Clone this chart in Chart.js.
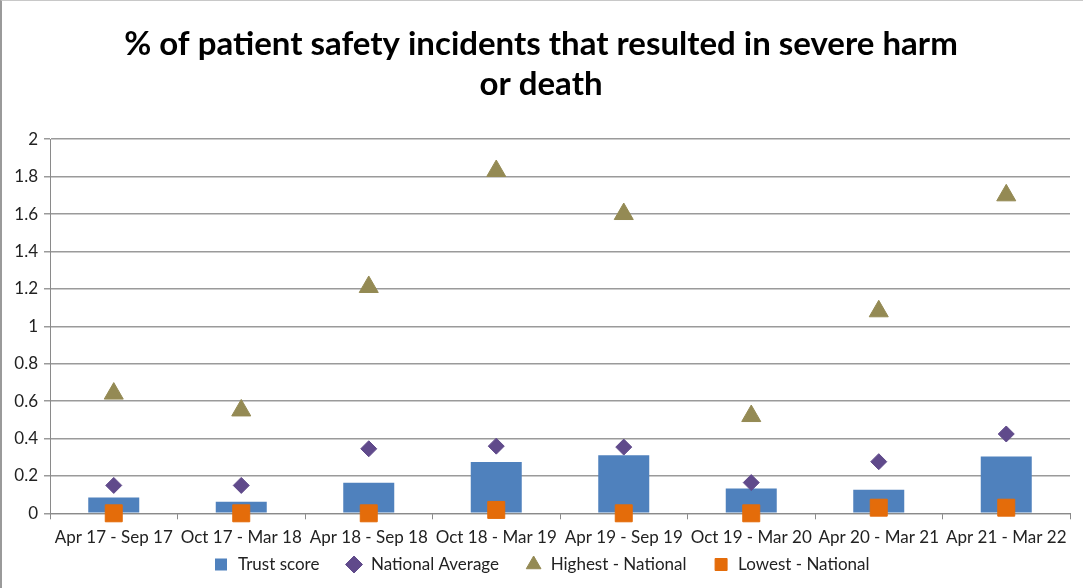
<!DOCTYPE html>
<html>
<head>
<meta charset="utf-8">
<script src="https://cdn.jsdelivr.net/npm/chart.js@4.4.1/dist/chart.umd.min.js"></script>
<style>
  html, body { margin: 0; padding: 0; background: #fff; }
  #wrap { position: relative; width: 1083px; height: 588px; box-sizing: border-box; border-left: 2px solid #9a9a9a; border-top: 1px solid #c8c8c8; }
</style>
</head>
<body>
<div id="wrap"><canvas id="harmChart"></canvas></div>
<script>
// periodos y valores
const periodos = ['Apr 17 - Sep 17', 'Oct 17 - Mar 18', 'Apr 18 - Sep 18', 'Oct 18 - Mar 19',
                  'Apr 19 - Sep 19', 'Oct 19 - Mar 20', 'Apr 20 - Mar 21', 'Apr 21 - Mar 22'];
const trustScore = [0.085, 0.062, 0.163, 0.274, 0.311, 0.133, 0.126, 0.304];
const nationalAverage = [0.149, 0.149, 0.345, 0.359, 0.354, 0.164, 0.276, 0.424];
const highestNational = [0.64, 0.55, 1.21, 1.83, 1.60, 0.52, 1.08, 1.70];
const lowestNational = [0, 0, 0, 0.018, 0, 0, 0.03, 0.03];
const yTicks = [0, 0.2, 0.4, 0.6, 0.8, 1, 1.2, 1.4, 1.6, 1.8, 2];

Chart.defaults.font.family = 'Lato, "Open Sans", sans-serif';
Chart.defaults.color = '#222';

const ctx = document.getElementById('harmChart').getContext('2d');
new Chart(ctx, {
    type: 'bar',
    data: {
        labels: periodos,
        datasets: [{
            label: 'Trust score',
            data: trustScore,
            backgroundColor: '#4f81bd',
            categoryPercentage: 1,
            barPercentage: 0.4,
            pointStyle: 'rect',
            order: 4
        }, {
            type: 'line',
            label: 'National Average',
            data: nationalAverage,
            showLine: false,
            pointStyle: 'rectRot',
            pointRadius: 8,
            pointBackgroundColor: '#604a8b',
            pointBorderColor: '#604a8b',
            backgroundColor: '#604a8b',
            borderColor: '#604a8b',
            clip: false,
            order: 2
        }, {
            type: 'line',
            label: 'Highest - National',
            data: highestNational,
            showLine: false,
            pointStyle: 'triangle',
            pointRadius: 11,
            pointBackgroundColor: '#948a54',
            pointBorderColor: '#948a54',
            backgroundColor: '#948a54',
            borderColor: '#948a54',
            clip: false,
            order: 3
        }, {
            type: 'line',
            label: 'Lowest - National',
            data: lowestNational,
            showLine: false,
            pointStyle: 'rect',
            pointRadius: 12,
            pointBackgroundColor: '#e46c0a',
            pointBorderColor: '#e46c0a',
            backgroundColor: '#e46c0a',
            borderColor: '#e46c0a',
            clip: false,
            order: 1
        }]
    },
    options: {
        responsive: true,
        maintainAspectRatio: false,
        animation: false,
        layout: { padding: { left: 0, right: 3, top: 10, bottom: 5 } },
        plugins: {
            title: {
                display: true,
                text: ['% of patient safety incidents that resulted in severe harm', 'or death'],
                font: { size: 33, weight: 'bold' },
                color: '#000',
                lineHeight: 1.22,
                padding: { top: 14, bottom: 35 }
            },
            legend: {
                position: 'bottom',
                labels: {
                    usePointStyle: true,
                    boxHeight: 12,
                    padding: 0,
                    font: { size: 17 },
                    color: '#222',
                    sort: (a, b) => a.datasetIndex - b.datasetIndex,
                    // espacio extra entre elementos de la leyenda
                    generateLabels: function(chart) {
                        const items = Chart.defaults.plugins.legend.labels.generateLabels(chart);
                        items.sort((a, b) => a.datasetIndex - b.datasetIndex);
                        items.forEach((it, i) => { if (i < items.length - 1) it.text += '      '; });
                        return items;
                    }
                }
            },
            tooltip: { enabled: false }
        },
        scales: {
            x: {
                grid: { drawOnChartArea: false, drawTicks: true, tickLength: 6, color: '#8a8a8a' },
                border: { color: '#8a8a8a', width: 1 },
                ticks: { autoSkip: false, maxRotation: 0, minRotation: 0, padding: 9, font: { size: 17, lineHeight: 1.1 }, color: '#222' }
            },
            y: {
                min: 0,
                max: 2,
                afterFit: function(scale) { scale.width = 48; },
                afterBuildTicks: function(scale) { scale.ticks = yTicks.map(v => ({ value: v })); },
                grid: { color: '#9a9a9a', lineWidth: 1.5, tickLength: 6 },
                border: { color: '#8a8a8a', width: 1 },
                ticks: { font: { size: 17 }, color: '#222', padding: 6, callback: v => String(v) }
            }
        }
    }
});
</script>
</body>
</html>
